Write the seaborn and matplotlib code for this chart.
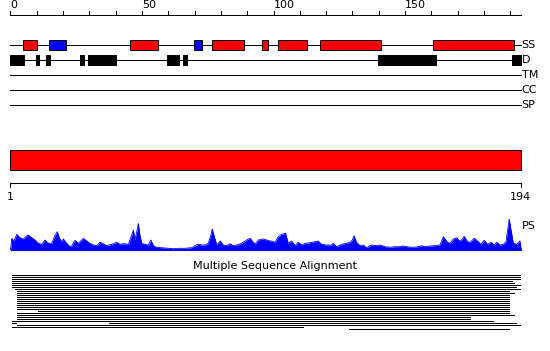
import matplotlib
matplotlib.use("Agg")
import matplotlib.pyplot as plt
import seaborn as sns
import numpy as np
import pandas as pd

sns.set_theme(style="white")
plt.rcParams['font.family'] = ['DejaVu Sans']

# ---------------- data ----------------
seq_len = 194
ruler_ticks = list(range(0, 200, 10))
ruler_labels = [0, 50, 100, 150]

track_names = ["SS", "D", "TM", "CC", "SP"]

# secondary structure elements (H = helix, E = strand)
ss_start = [4.9, 14.8, 45.6, 69.9, 76.7, 95.7, 101.8, 117.8, 160.8]
ss_end = [10.0, 21.0, 56.0, 72.7, 88.7, 97.8, 112.9, 140.8, 191.6]
ss_type = ["H", "E", "H", "E", "H", "H", "H", "H", "H"]

# disordered regions
d_start = [0.0, 9.7, 13.5, 26.4, 29.5, 59.5, 65.6, 139.7, 190.7]
d_end = [5.1, 10.8, 15.0, 27.9, 40.0, 64.1, 67.1, 161.8, 194.0]

# domain bar
dom_start = [0]
dom_end = [194]
scale_ticks = [0, 194]
scale_labels = ["1", "194"]

# PS profile (position, value)
ps_pos = [0, 0.5, 1.3, 2.4, 3.6, 4.9, 6.2, 6.8, 8.1, 9.3, 10.6, 11.9, 13.1, 14.4,
          15.7, 16.7, 17.8, 18.6, 19.5, 20.1, 21.4, 22.6, 23.3, 24.5, 25.8, 27.7,
          29.0, 30.2, 31.5, 32.8, 34.0, 35.3, 36.6, 38.5, 40.4, 41.6, 42.9, 44.8,
          46.1, 46.7, 47.3, 48.0, 48.6, 49.2, 49.9, 51.1, 52.4, 53.4, 54.3, 55.6,
          57.5, 60.0, 61.9, 63.8, 66.3, 68.9, 70.2, 71.4, 72.7, 74.0, 75.2, 76.2,
          76.7, 77.5, 78.4, 79.7, 80.9, 82.2, 83.5, 84.7, 86.0, 87.9, 89.8, 91.1,
          91.9, 93.0, 94.2, 96.1, 97.4, 98.7, 99.3, 100.6, 101.8, 103.1, 104.6,
          105.6, 106.9, 108.2, 109.4, 110.7, 112.0, 113.9, 115.8, 117.0, 118.3,
          120.2, 122.1, 122.7, 124.0, 125.9, 127.8, 129.1, 130.0, 130.6, 131.6,
          132.9, 134.1, 135.4, 137.3, 139.2, 140.5, 142.4, 144.3, 146.2, 148.1,
          149.4, 151.3, 153.2, 155.1, 156.3, 157.6, 159.5, 161.4, 163.3, 164.6,
          165.9, 167.1, 168.4, 169.7, 170.6, 171.5, 172.5, 173.8, 174.7, 176.4,
          177.6, 178.9, 180.1, 181.4, 182.7, 183.9, 184.9, 186.1, 187.4, 188.4,
          189.0, 189.6, 190.3, 191.2, 192.5, 193.7, 194.2]
ps_val = [0.5, 12.2, 9.5, 16.2, 12.8, 11.5, 14.8, 15.5, 12.8, 10.5, 7.2, 6.2, 10.5, 7.2,
          7.2, 13.8, 18.8, 12.2, 8.8, 11.5, 7.2, 3.8, 4.8, 10.2, 7.2, 12.2,
          9.5, 7.2, 5.5, 4.8, 8.2, 6.8, 4.8, 6.2, 8.2, 6.2, 6.8, 6.2,
          15.5, 20.5, 10.5, 18.8, 27.0, 15.5, 7.2, 6.2, 5.5, 10.5, 4.8, 3.2,
          2.8, 2.2, 1.8, 2.2, 2.2, 2.8, 4.8, 6.2, 5.5, 5.5, 7.2, 15.5,
          21.5, 13.8, 5.5, 9.5, 5.5, 4.8, 6.8, 4.8, 5.5, 7.2, 10.5, 12.2,
          9.5, 6.2, 10.5, 11.5, 10.5, 9.5, 9.5, 8.2, 13.8, 16.2, 17.2,
          7.2, 9.5, 4.8, 8.2, 5.5, 7.2, 7.8, 8.8, 9.5, 6.2,
          5.5, 5.5, 7.2, 3.8, 6.2, 7.2, 8.2, 10.5, 14.8, 8.2,
          4.8, 5.5, 2.8, 5.5, 4.8, 5.5, 3.8, 3.2, 3.8, 3.8,
          4.5, 3.5, 3.2, 3.8, 4.8, 3.8, 4.5, 4.8, 5.5, 13.8,
          8.8, 7.2, 11.5, 12.8, 9.5, 10.5, 14.2, 8.8, 8.2, 12.2,
          9.5, 6.2, 10.2, 6.2, 8.2, 5.5, 8.2, 5.5, 6.2, 8.8,
          20.5, 31.5, 20.5, 7.2, 6.2, 9.5, 0.5]

# multiple sequence alignment: row index, segment start, segment end
msa_row = [0, 1, 2, 3, 4, 5, 6, 7, 8, 9, 10, 11, 12, 13, 14, 15, 16, 17, 18, 19,
           20, 21, 22, 23, 24, 24, 25, 26, 27]
msa_start = [0.7, 0.7, 0.7, 0.7, 0.7, 0.7, 0.7, 1.7, 2.6, 2.6, 2.6, 2.6, 2.6, 2.6,
             2.6, 2.6, 2.6, 2.6, 10.5, 2.6, 2.6, 2.6, 2.6, 0.7, 0.7, 37.5, 2.6,
             0.7, 128.7]
msa_end = [194, 194, 194, 191, 192, 194, 192.6, 194, 190, 192, 190, 190, 190, 190,
           190, 190, 190, 190, 190, 190, 192, 175, 175, 184, 2.6, 192.6, 194,
           111.6, 190]

# ---------------- layout helpers ----------------
W, H = 550, 351
PX0, PXU = 10.5, 2.63  # pixel of position 0, pixels per residue


def px2pos(px):
    return (px - PX0) / PXU


fig = plt.figure(figsize=(W / 100, H / 100), dpi=100)
ax = fig.add_axes([0, 0, 1, 1])
ax.set_xlim(px2pos(0), px2pos(W))
ax.set_ylim(H, 0)
ax.axis('off')

lw1 = 0.72
fs = 8

# ruler
ax.hlines(14.5, 0, seq_len, color='black', lw=lw1, antialiased=False)
ax.vlines(ruler_ticks, 10.5, 14.5, color='black', lw=lw1, antialiased=False)
for v in ruler_labels:
    ax.text(v, 0.5, str(v), ha='left', va='top', fontsize=fs, color='black')

# tracks
track_y = [45, 60, 75, 90, 105]
for name, y in zip(track_names, track_y):
    ax.hlines(y - 0.5, 0, seq_len, color='black', lw=lw1, antialiased=False, zorder=1)
    ax.text(seq_len + 0.3, y, name, ha='left', va='center', fontsize=fs, color='black')

ss_colors = {"H": "#ff0000", "E": "#0000ff"}
ss_df = pd.DataFrame({"start": ss_start, "end": ss_end, "type": ss_type})
ax.barh([track_y[0]] * len(ss_df), ss_df["end"] - ss_df["start"], left=ss_df["start"],
        height=10.5, color=[ss_colors[t] for t in ss_df["type"]],
        edgecolor='black', linewidth=lw1, zorder=2)

d_df = pd.DataFrame({"start": d_start, "end": d_end})
ax.barh([track_y[1]] * len(d_df), d_df["end"] - d_df["start"], left=d_df["start"],
        height=10.5, color='black', edgecolor='black', linewidth=lw1, zorder=2)

# domain bar
ax.barh([160] * len(dom_start), np.array(dom_end) - np.array(dom_start), left=dom_start,
        height=20, color='#ff0000', edgecolor='black', linewidth=lw1, zorder=2)

# scale
ax.hlines(182.5, 0, seq_len, color='black', lw=lw1, antialiased=False)
ax.vlines(scale_ticks, 182.5, 187, color='black', lw=lw1, antialiased=False)
for v, lab in zip(scale_ticks, scale_labels):
    ax.text(v, 197, lab, ha='center', va='center', fontsize=fs, color='black')

# PS profile
ax_ps = fig.add_axes([0, (H - 250.5) / H, 1, 32 / H])
ax_ps.set_xlim(px2pos(0), px2pos(W))
ax_ps.set_ylim(0, 32)
ax_ps.axis('off')
ps_df = pd.DataFrame({"pos": ps_pos, "val": ps_val})
ax_ps.fill_between(ps_df["pos"], 0, ps_df["val"], color='#0000ff', lw=0)
sns.lineplot(data=ps_df, x="pos", y="val", color='#0000ff', lw=0.6, ax=ax_ps)
ax.text(seq_len + 0.5, 226, "PS", ha='left', va='center', fontsize=fs, color='black')

# MSA
fig.text(0.5, 1 - 266 / H, "Multiple Sequence Alignment", ha='center', va='center',
         fontsize=fs, color='black')
msa_df = pd.DataFrame({"row": msa_row, "start": msa_start, "end": msa_end})
ax.barh(275.5 + 2 * msa_df["row"], msa_df["end"] - msa_df["start"], left=msa_df["start"],
        height=1.0, color='black', linewidth=0)

fig.savefig("out.png", dpi=100)
